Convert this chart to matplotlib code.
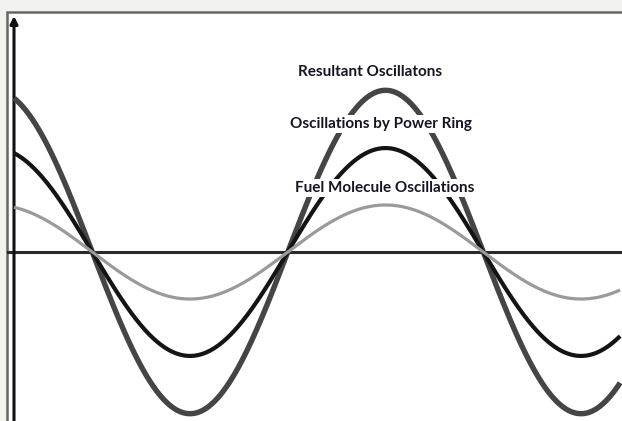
import numpy as np
import matplotlib
matplotlib.use("Agg")
from matplotlib import pyplot as plt
from matplotlib.patches import Rectangle

# Amplituder (relativ til resultanten) og farver for hver svingning
navne = ["Resultant Oscillatons", "Oscillations by Power Ring", "Fuel Molecule Oscillations"]
amplituder = [0.98, 0.63, 0.285]
farver = ["#454545", "#141414", "#9a9a9a"]
bredder = [3.9, 3.0, 2.3]
fase = 0.313           # faseforskydning ved y-aksen [rad]
theta = np.linspace(0, 9.74, 800)

W, H = 622, 421
fig = plt.figure(figsize=(W / 100, H / 100), dpi=100)
fig.patch.set_facecolor("#f2f2ee")

ax = fig.add_axes([0, 0, 1, 1])
ax.set_facecolor("none")
ax.set_xlim(-14 / 391 * 2 * np.pi, (W - 14) / 391 * 2 * np.pi)
ax.set_ylim(-(H - 252) / 165, 252 / 165)
ax.axis("off")

# hvid ramme som i originalen (løber ud over højre og nederste kant)
ax.add_patch(Rectangle((7 / W, -0.1), 1.2, 1.1 - 12 / H, transform=fig.transFigure,
                       facecolor="white", edgecolor="#666666", lw=1.8, zorder=0,
                       clip_on=False))

# akser
ax.plot([-0.1, theta[-1] + 0.02], [0, 0], color="#2a2a2a", lw=2.2, zorder=2)
ax.annotate("", xy=(0, (252 - 16) / 165), xytext=(0, -1.1),
            arrowprops=dict(arrowstyle="-|>", color="#111111", lw=2.2,
                            mutation_scale=11, shrinkA=0, shrinkB=0), zorder=3)

for A, c, lw in zip(amplituder, farver, bredder):
    ax.plot(theta, A * np.cos(theta + fase), color=c, lw=lw, solid_capstyle="butt", zorder=4)

tekst_pos = [(5.72, 1.09), (5.90, 0.776), (5.96, 0.388)]
for navn, (x, y) in zip(navne, tekst_pos):
    ax.text(x, y, navn, ha="center", va="center", fontsize=11, fontweight="bold",
            family=["Lato", "DejaVu Sans"], color="#151522", zorder=6,
            bbox=dict(facecolor="white", edgecolor="none", pad=1.5))

fig.savefig("out.png", dpi=100, facecolor=fig.get_facecolor())
